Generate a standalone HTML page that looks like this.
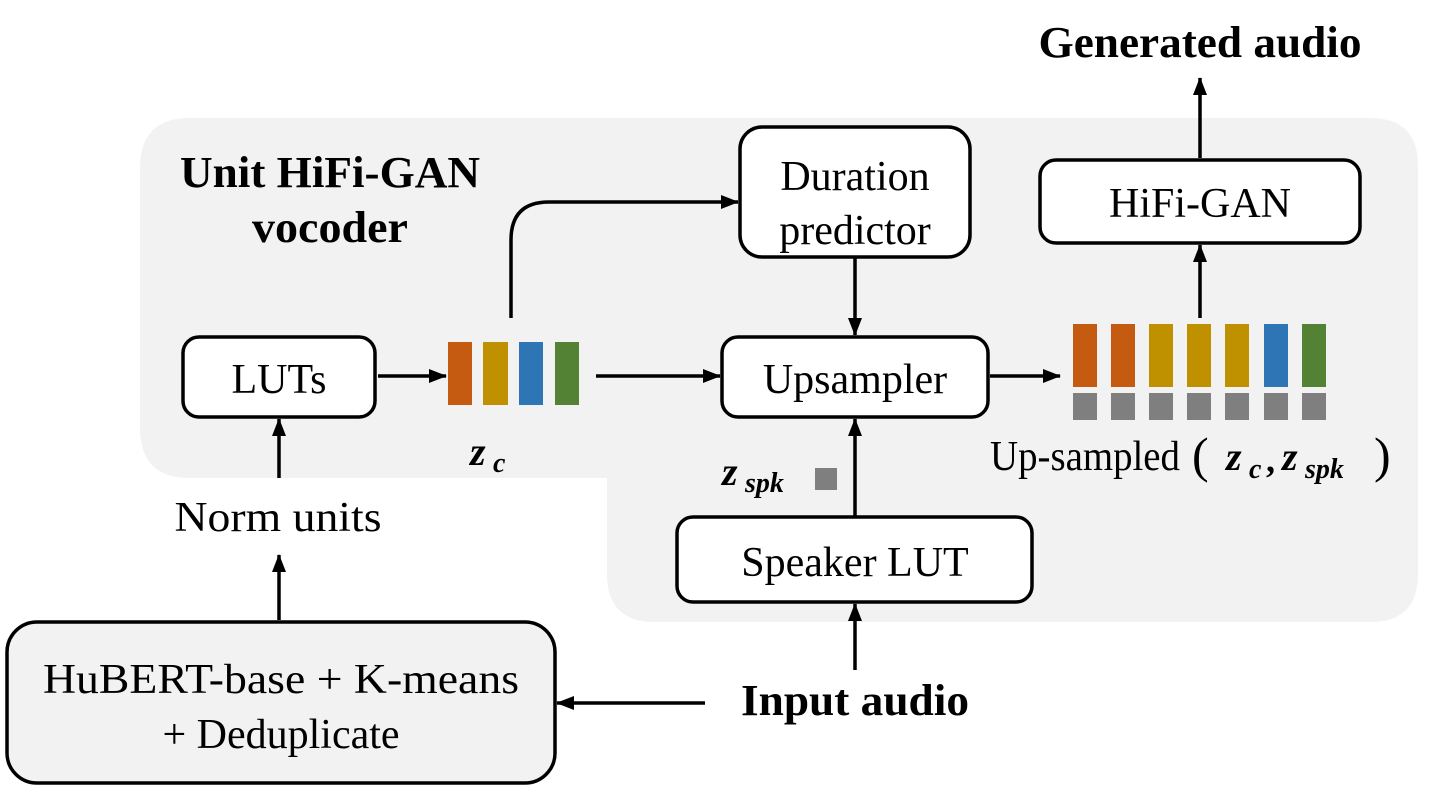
<!DOCTYPE html>
<html><head><meta charset="utf-8"><style>
html,body{margin:0;padding:0;background:#fff;}
svg{display:block;}
</style></head><body>
<svg width="1445" height="788" viewBox="0 0 1445 788" xmlns="http://www.w3.org/2000/svg" font-family="'Liberation Serif', 'Times New Roman', serif">
<defs>
<marker id="a" markerWidth="18" markerHeight="14" refX="17" refY="7" orient="auto" markerUnits="userSpaceOnUse">
<path d="M0,0 L18,7 L0,14 z" fill="#000"/>
</marker>
</defs>
<path d="M190,118 H1370 Q1418,118 1418,166 V574 Q1418,622 1370,622 H655 Q607,622 607,574 V478 H190 Q140,478 140,428 V168 Q140,118 190,118 Z" fill="#f2f2f2"/>

<text x="180" y="187" font-size="44" font-weight="bold" textLength="300" lengthAdjust="spacingAndGlyphs">Unit HiFi-GAN</text>
<text x="252" y="242" font-size="44" font-weight="bold" textLength="156" lengthAdjust="spacingAndGlyphs">vocoder</text>

<g fill="#fff" stroke="#000" stroke-width="3.5">
<rect x="740" y="127" width="230" height="130" rx="22"/>
<rect x="1040" y="160" width="320" height="83" rx="16"/>
<rect x="183" y="337" width="192" height="80" rx="16"/>
<rect x="722" y="337" width="266" height="80" rx="16"/>
<rect x="677" y="517" width="355" height="85" rx="16"/>
<rect x="7" y="622" width="548" height="161" rx="30" fill="#f2f2f2"/>
</g>
<g font-size="42" text-anchor="middle">
<text x="855" y="190">Duration</text>
<text x="855" y="244">predictor</text>
<text x="1200" y="217">HiFi-GAN</text>
<text x="279" y="393">LUTs</text>
<text x="855" y="393">Upsampler</text>
<text x="855" y="576">Speaker LUT</text>
<text x="281" y="693" textLength="476" lengthAdjust="spacingAndGlyphs">HuBERT-base + K-means</text>
<text x="281" y="748">+ Deduplicate</text>
<text x="278" y="531" textLength="207" lengthAdjust="spacingAndGlyphs">Norm units</text>
</g>
<text x="1200" y="57" font-size="44" font-weight="bold" text-anchor="middle" textLength="323" lengthAdjust="spacingAndGlyphs">Generated audio</text>
<text x="855" y="715" font-size="44" font-weight="bold" text-anchor="middle" textLength="228" lengthAdjust="spacingAndGlyphs">Input audio</text>

<rect x="448" y="342" width="24" height="63" fill="#c55a11"/>
<rect x="483" y="342" width="25" height="63" fill="#bf9000"/>
<rect x="519" y="342" width="24" height="63" fill="#2e75b6"/>
<rect x="555" y="342" width="24" height="63" fill="#548235"/>
<text x="470" y="465" font-size="40" font-weight="bold" font-style="italic">z</text>
<text x="493" y="472" font-size="28" font-weight="bold" font-style="italic">c</text>

<g>
<rect x="1073" y="324" width="24" height="63" fill="#c55a11"/>
<rect x="1111" y="324" width="24" height="63" fill="#c55a11"/>
<rect x="1149" y="324" width="24" height="63" fill="#bf9000"/>
<rect x="1187" y="324" width="24" height="63" fill="#bf9000"/>
<rect x="1225" y="324" width="24" height="63" fill="#bf9000"/>
<rect x="1264" y="324" width="24" height="63" fill="#2e75b6"/>
<rect x="1302" y="324" width="24" height="63" fill="#548235"/>
</g>
<g fill="#7f7f7f">
<rect x="1073" y="393" width="24" height="27"/>
<rect x="1111" y="393" width="24" height="27"/>
<rect x="1149" y="393" width="24" height="27"/>
<rect x="1187" y="393" width="24" height="27"/>
<rect x="1225" y="393" width="24" height="27"/>
<rect x="1264" y="393" width="24" height="27"/>
<rect x="1302" y="393" width="24" height="27"/>
<rect x="815" y="468" width="22" height="22"/>
</g>
<text x="990" y="470" font-size="42" textLength="190" lengthAdjust="spacingAndGlyphs">Up-sampled</text>
<text x="1192" y="472" font-size="50">(</text>
<text x="1226" y="470" font-size="40" font-weight="bold" font-style="italic">z</text>
<text x="1249" y="478" font-size="28" font-weight="bold" font-style="italic">c</text>
<text x="1266" y="472" font-size="36" font-weight="bold">,</text>
<text x="1282" y="470" font-size="40" font-weight="bold" font-style="italic">z</text>
<text x="1305" y="478" font-size="28" font-weight="bold" font-style="italic">spk</text>
<text x="1374" y="472" font-size="50">)</text>
<text x="722" y="485" font-size="40" font-weight="bold" font-style="italic">z</text>
<text x="745" y="492" font-size="28" font-weight="bold" font-style="italic">spk</text>

<g stroke="#000" stroke-width="3.5" fill="none">
<line x1="378" y1="376" x2="446" y2="376" marker-end="url(#a)"/>
<line x1="596" y1="376" x2="720" y2="376" marker-end="url(#a)"/>
<line x1="990" y1="376" x2="1060" y2="376" marker-end="url(#a)"/>
<path d="M511,318 V240 Q511,202 549,202 H738" marker-end="url(#a)"/>
<line x1="855" y1="258" x2="855" y2="335" marker-end="url(#a)"/>
<line x1="855" y1="516" x2="855" y2="419" marker-end="url(#a)"/>
<line x1="855" y1="670" x2="855" y2="604" marker-end="url(#a)"/>
<line x1="1200" y1="318" x2="1200" y2="245" marker-end="url(#a)"/>
<line x1="1200" y1="158" x2="1200" y2="78" marker-end="url(#a)"/>
<line x1="279" y1="478" x2="279" y2="419" marker-end="url(#a)"/>
<line x1="279" y1="620" x2="279" y2="555" marker-end="url(#a)"/>
<line x1="705" y1="703" x2="557" y2="703" marker-end="url(#a)"/>
</g>
</svg>
</body></html>
